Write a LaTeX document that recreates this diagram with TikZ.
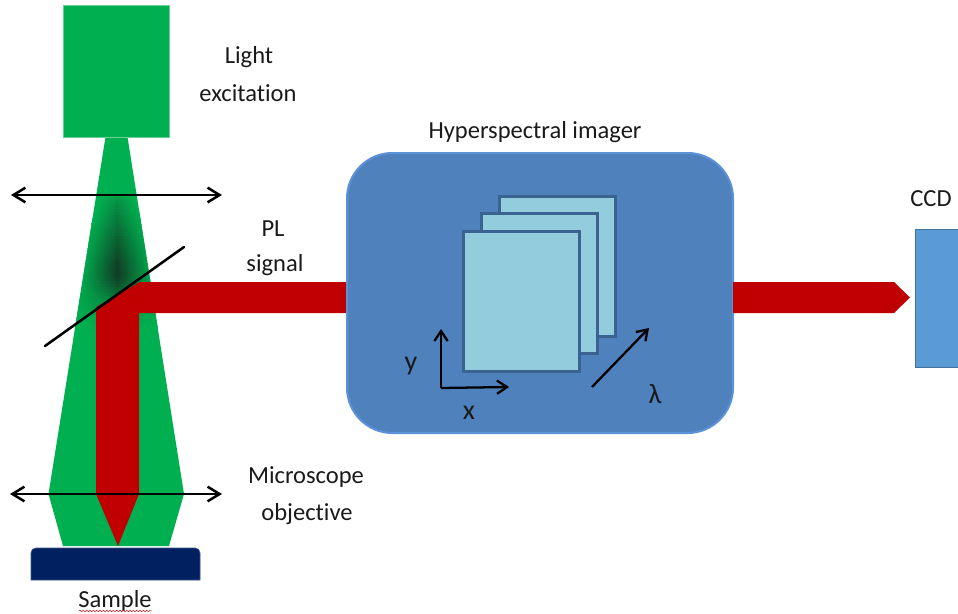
\documentclass[tikz,border=0pt]{standalone}
\usepackage{fontspec}
\setmainfont{Carlito}[Ligatures=CommonOff]
\usetikzlibrary{arrows.meta,decorations.pathmorphing}
\definecolor{beamgreen}{HTML}{00B050}
\definecolor{beamdark}{HTML}{12301F}
\definecolor{pulsered}{HTML}{C00000}
\definecolor{samplenavy}{HTML}{002060}
\definecolor{imagerblue}{HTML}{4F81BD}
\definecolor{imageredge}{HTML}{5B92D8}
\definecolor{sheetfill}{HTML}{93CDDD}
\definecolor{sheetedge}{HTML}{3B6391}
\definecolor{ccdblue}{HTML}{5B9BD5}
\definecolor{ccdedge}{HTML}{41719C}
\definecolor{inktext}{HTML}{1A1A1A}
\tikzset{
  x=0.75pt,y=-0.75pt,
  box/.style={rectangle,inner sep=0pt,outer sep=0pt,anchor=north west},
  sheet/.style={box,fill=sheetfill,draw=sheetedge,line width=2.25pt},
  label/.style={text=inktext,font=\fontsize{18.4}{20}\selectfont,inner sep=0pt},
  biglabel/.style={text=inktext,font=\fontsize{21}{22}\selectfont,inner sep=0pt},
  lens/.style={black,line width=1.9pt,{Straight Barb[length=9pt,width=11pt,line width=1.9pt]}-{Straight Barb[length=9pt,width=11pt,line width=1.9pt]}},
  axis/.style={black,line width=1.7pt,-{Straight Barb[length=7.5pt,width=10pt,line width=1.7pt]}},
  mirror/.style={black,line width=1.9pt,line cap=round},
  beam/.style={fill=pulsered,draw=none}
}
\begin{document}
\begin{tikzpicture}
\useasboundingbox (0,0) rectangle (958,614);
\fill[white] (0,0) rectangle (958,614);
% excitation beam
\path[fill=beamgreen] (105.5,137) -- (127.5,137) -- (184,494) -- (169,546) -- (63,546) -- (48.5,494) -- cycle;
\begin{scope}
  \clip (105.5,137) -- (127.5,137) -- (184,494) -- (169,546) -- (63,546) -- (48.5,494) -- cycle;
  \foreach \yy/\mixv/\hw in {197/22/18,200/25/19,203/28/20,206/31/21,209/34/22,212/37/23,215/40/24,218/43/25,221/46/26,224/49/27,227/52/28,230/55/29,233/58/30,236/61/31,239/64/32,242/67/32,245/70/33,248/73/33,251/76/34,254/79/34,257/82/35,260/85/35,263/87/36,266/89/36,269/90/37,272/90/37,275/88/38,278/85/38,281/80/39,284/74/39,287/67/40,290/60/41,293/53/42,296/46/43,299/40/44,302/34/45,305/29/46,308/24/47,311/20/48,314/16/49,317/12/50,320/9/50,323/6/50,326/3/50}{
    \shade[left color=beamgreen,right color=beamgreen,middle color=beamdark!\mixv!beamgreen] ({117-\hw},\yy) rectangle ({117+\hw},{\yy+3.3});
  }
\end{scope}
% source
\node[box,fill=beamgreen,draw=beamgreen!60!white,line width=0.75pt,minimum width=79.5pt,minimum height=99pt] (source) at (63,5) {};
% PL beam in microscope
\path[beam] (96,307) -- (140,282) -- (347,282) -- (347,313) -- (139,313) -- (139,494) -- (118,546) -- (96,494) -- cycle;
% sample
\path[fill=samplenavy,draw=samplenavy!75!white,line width=0.5pt] (31,580) -- (31,553) .. controls (31,550) and (33,548) .. (36,548) -- (195,548) .. controls (198,548) and (200,550) .. (200,553) -- (200,580) -- cycle;
% lenses and mirror
\coordinate (lensAl) at (11,195); \coordinate (lensAr) at (222,195);
\coordinate (lensBl) at (10,494); \coordinate (lensBr) at (222,494);
\coordinate (mirA) at (45,346); \coordinate (mirB) at (184,247);
\draw[lens] (lensAl) -- (lensAr);
\draw[lens] (lensBl) -- (lensBr);
\draw[mirror] (mirA) -- (mirB);
% imager
\node[box,fill=imagerblue,draw=imageredge,line width=1.5pt,rounded corners=34pt,minimum width=289.5pt,minimum height=210pt] (imager) at (347,153) {};
\node[sheet,minimum width=87pt,minimum height=105pt] (sheetC) at (499,196) {};
\node[sheet,minimum width=87pt,minimum height=105pt] (sheetB) at (481,213) {};
\node[sheet,minimum width=87pt,minimum height=105pt] (sheetA) at (463,231) {};
\coordinate (orig) at (441,388); \coordinate (yend) at (441,329); \coordinate (xend) at (509,387);
\coordinate (lamA) at (592,387); \coordinate (lamB) at (649,328);
\draw[axis] (orig) -- (yend);
\draw[axis] (orig) -- (xend);
\draw[axis] (lamA) -- (lamB);
% output beam and CCD
\path[beam] (733,282) -- (894,282) -- (910,297.5) -- (894,313) -- (733,313) -- cycle;
\node[box,fill=ccdblue,draw=ccdedge,line width=0.75pt,minimum width=40pt,minimum height=103.5pt] (ccd) at (915,229) {};
% labels
\node[label] (t1) at (249,57) {Light};
\node[label] (t2) at (248,93) {excitation};
\node[label] (t3) at (273,229) {PL};
\node[label] (t4) at (275,265) {signal};
\node[label] (t5) at (535,132) {Hyperspectral imager};
\node[label] (t6) at (931,199) {CCD};
\node[label] (t7) at (306,477) {Microscope};
\node[label] (t8) at (307,514) {objective};
\node[label] (t9) at (115,601) {Sample};
\node[biglabel] (t10) at (411,366) {y};
\node[biglabel] (t11) at (469,413) {x};
\node[biglabel] (t12) at (655,394) {λ};
\draw[red!80!black,line width=0.35pt,decorate,decoration={snake,amplitude=0.5pt,segment length=2.5pt}] (79,611) -- (152,611);
\end{tikzpicture}
\end{document}
